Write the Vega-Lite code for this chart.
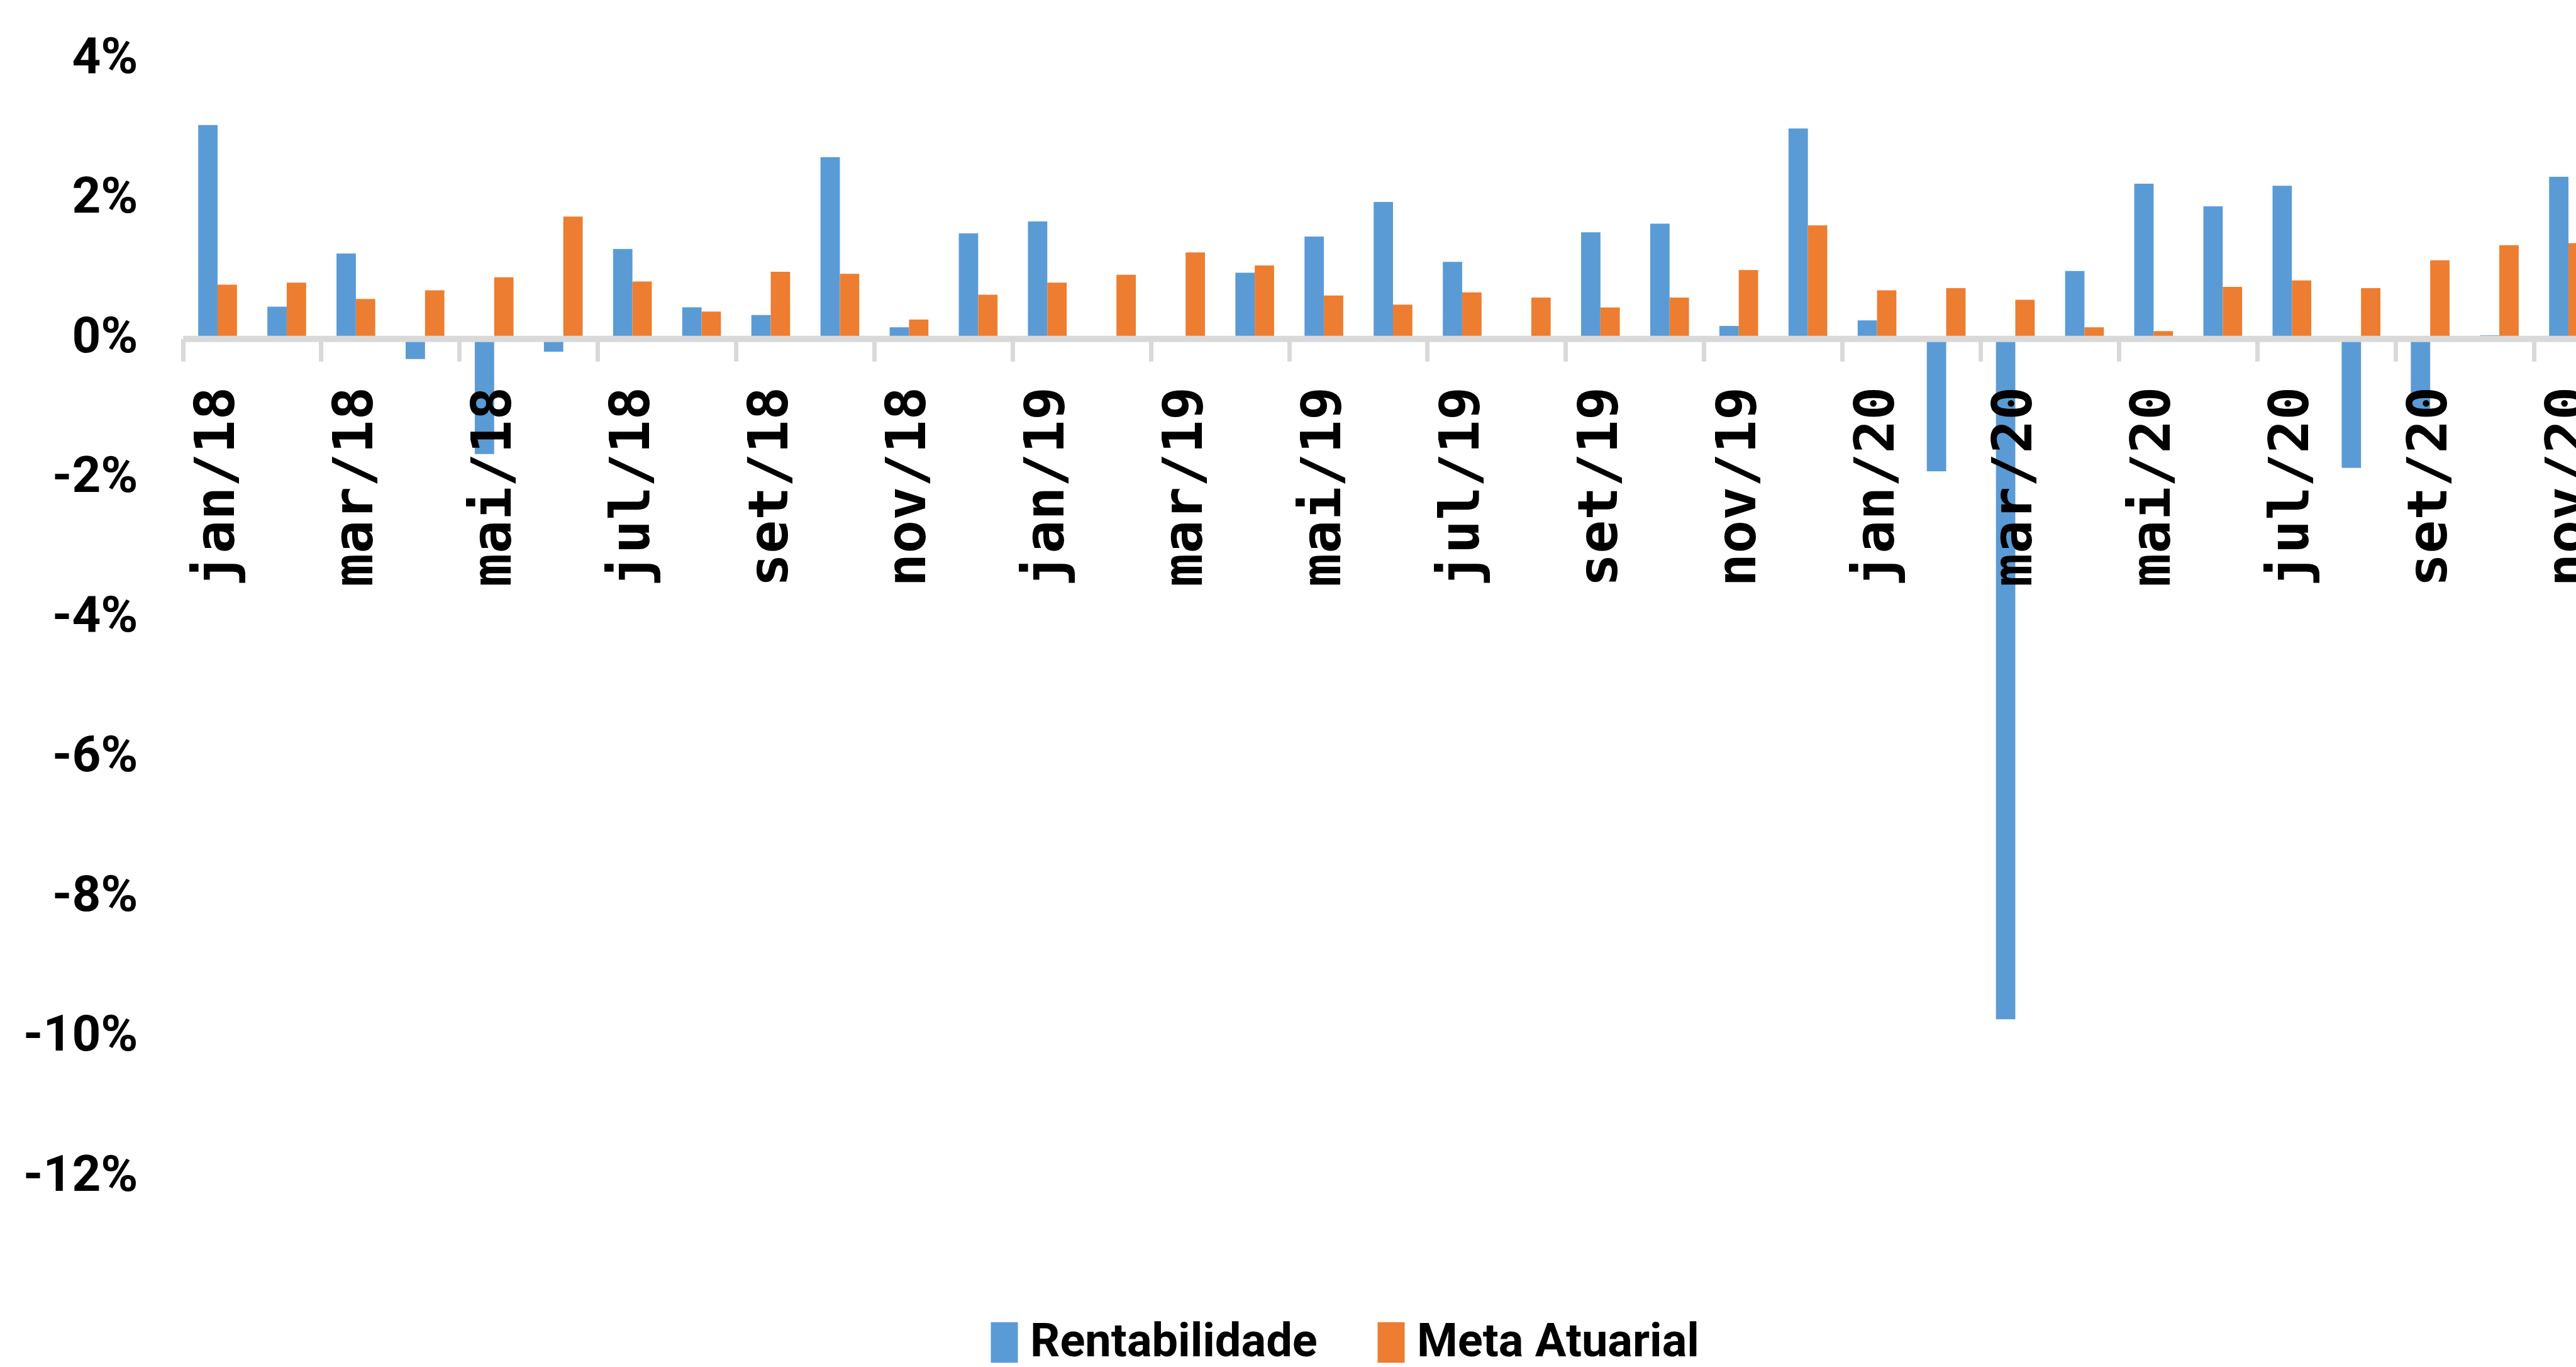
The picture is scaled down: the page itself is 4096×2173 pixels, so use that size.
{
  "$schema": "https://vega.github.io/schema/vega-lite/v6.json",
  "autosize": {"type": "none"},
  "padding": {"left": 291, "top": 91, "right": -43, "bottom": 305},
  "width": 3848,
  "height": 1777,
  "background": "white",
  "config": {"view": {"stroke": null}},
  "data": {"values": [
    {"mes": "jan/18", "serie": "Rentabilidade", "valor": 0.0303}, {"mes": "jan/18", "serie": "Meta Atuarial", "valor": 0.00745},
    {"mes": "fev/18", "serie": "Rentabilidade", "valor": 0.0043}, {"mes": "fev/18", "serie": "Meta Atuarial", "valor": 0.00775},
    {"mes": "mar/18", "serie": "Rentabilidade", "valor": 0.0119}, {"mes": "mar/18", "serie": "Meta Atuarial", "valor": 0.0054},
    {"mes": "abr/18", "serie": "Rentabilidade", "valor": -0.0032}, {"mes": "abr/18", "serie": "Meta Atuarial", "valor": 0.00665},
    {"mes": "mai/18", "serie": "Rentabilidade", "valor": -0.0168}, {"mes": "mai/18", "serie": "Meta Atuarial", "valor": 0.0085},
    {"mes": "jun/18", "serie": "Rentabilidade", "valor": -0.00215}, {"mes": "jun/18", "serie": "Meta Atuarial", "valor": 0.0172},
    {"mes": "jul/18", "serie": "Rentabilidade", "valor": 0.01255}, {"mes": "jul/18", "serie": "Meta Atuarial", "valor": 0.0079},
    {"mes": "ago/18", "serie": "Rentabilidade", "valor": 0.0042}, {"mes": "ago/18", "serie": "Meta Atuarial", "valor": 0.0036},
    {"mes": "set/18", "serie": "Rentabilidade", "valor": 0.0031}, {"mes": "set/18", "serie": "Meta Atuarial", "valor": 0.0093},
    {"mes": "out/18", "serie": "Rentabilidade", "valor": 0.0257}, {"mes": "out/18", "serie": "Meta Atuarial", "valor": 0.009},
    {"mes": "nov/18", "serie": "Rentabilidade", "valor": 0.00135}, {"mes": "nov/18", "serie": "Meta Atuarial", "valor": 0.00246},
    {"mes": "dez/18", "serie": "Rentabilidade", "valor": 0.0148}, {"mes": "dez/18", "serie": "Meta Atuarial", "valor": 0.006},
    {"mes": "jan/19", "serie": "Rentabilidade", "valor": 0.0165}, {"mes": "jan/19", "serie": "Meta Atuarial", "valor": 0.00775},
    {"mes": "fev/19", "serie": "Rentabilidade", "valor": 0}, {"mes": "fev/19", "serie": "Meta Atuarial", "valor": 0.00886},
    {"mes": "mar/19", "serie": "Rentabilidade", "valor": 0}, {"mes": "mar/19", "serie": "Meta Atuarial", "valor": 0.01206},
    {"mes": "abr/19", "serie": "Rentabilidade", "valor": 0.00917}, {"mes": "abr/19", "serie": "Meta Atuarial", "valor": 0.0102},
    {"mes": "mai/19", "serie": "Rentabilidade", "valor": 0.01434}, {"mes": "mai/19", "serie": "Meta Atuarial", "valor": 0.0059},
    {"mes": "jun/19", "serie": "Rentabilidade", "valor": 0.0193}, {"mes": "jun/19", "serie": "Meta Atuarial", "valor": 0.0046},
    {"mes": "jul/19", "serie": "Rentabilidade", "valor": 0.01071}, {"mes": "jul/19", "serie": "Meta Atuarial", "valor": 0.00634},
    {"mes": "ago/19", "serie": "Rentabilidade", "valor": 0}, {"mes": "ago/19", "serie": "Meta Atuarial", "valor": 0.0056},
    {"mes": "set/19", "serie": "Rentabilidade", "valor": 0.01495}, {"mes": "set/19", "serie": "Meta Atuarial", "valor": 0.00418},
    {"mes": "out/19", "serie": "Rentabilidade", "valor": 0.01618}, {"mes": "out/19", "serie": "Meta Atuarial", "valor": 0.0056},
    {"mes": "nov/19", "serie": "Rentabilidade", "valor": 0.00154}, {"mes": "nov/19", "serie": "Meta Atuarial", "valor": 0.00954},
    {"mes": "dez/19", "serie": "Rentabilidade", "valor": 0.0298}, {"mes": "dez/19", "serie": "Meta Atuarial", "valor": 0.01594},
    {"mes": "jan/20", "serie": "Rentabilidade", "valor": 0.00234}, {"mes": "jan/20", "serie": "Meta Atuarial", "valor": 0.00665},
    {"mes": "fev/20", "serie": "Rentabilidade", "valor": -0.01926}, {"mes": "fev/20", "serie": "Meta Atuarial", "valor": 0.00695},
    {"mes": "mar/20", "serie": "Rentabilidade", "valor": -0.0977}, {"mes": "mar/20", "serie": "Meta Atuarial", "valor": 0.0053},
    {"mes": "abr/20", "serie": "Rentabilidade", "valor": 0.0094}, {"mes": "abr/20", "serie": "Meta Atuarial", "valor": 0.00135},
    {"mes": "mai/20", "serie": "Rentabilidade", "valor": 0.0219}, {"mes": "mai/20", "serie": "Meta Atuarial", "valor": 0.0008},
    {"mes": "jun/20", "serie": "Rentabilidade", "valor": 0.01865}, {"mes": "jun/20", "serie": "Meta Atuarial", "valor": 0.00714},
    {"mes": "jul/20", "serie": "Rentabilidade", "valor": 0.0216}, {"mes": "jul/20", "serie": "Meta Atuarial", "valor": 0.00806},
    {"mes": "ago/20", "serie": "Rentabilidade", "valor": -0.01877}, {"mes": "ago/20", "serie": "Meta Atuarial", "valor": 0.00695},
    {"mes": "set/20", "serie": "Rentabilidade", "valor": -0.0107}, {"mes": "set/20", "serie": "Meta Atuarial", "valor": 0.01095},
    {"mes": "out/20", "serie": "Rentabilidade", "valor": 0.0002}, {"mes": "out/20", "serie": "Meta Atuarial", "valor": 0.0131},
    {"mes": "nov/20", "serie": "Rentabilidade", "valor": 0.0229}, {"mes": "nov/20", "serie": "Meta Atuarial", "valor": 0.0134}
  ]},
  "mark": {"type": "bar"},
  "encoding": {
    "x": {
      "field": "mes", "type": "nominal", "sort": null,
      "scale": {"paddingInner": 0, "paddingOuter": 0},
      "axis": {
        "title": null,
        "offset": {"expr": "scale('y', 0) - height + 3"},
        "zindex": 1,
        "values": ["jan/18","mar/18","mai/18","jul/18","set/18","nov/18","jan/19","mar/19","mai/19","jul/19","set/19","nov/19","jan/20","mar/20","mai/20","jul/20","set/20","nov/20"],
        "bandPosition": 0,
        "domainColor": "#D9D9D9", "domainWidth": 10,
        "tickColor": "#D9D9D9", "tickWidth": 7, "tickSize": 36,
        "labelAngle": 270, "labelPadding": 40, "labelLimit": 1000,
        "labelFont": "DejaVu Sans Mono", "labelFontWeight": "bold", "labelFontSize": 88,
        "labelColor": "#000000", "labelOverlap": false
      }
    },
    "xOffset": {
      "field": "serie", "type": "nominal", "sort": ["Rentabilidade", "Meta Atuarial"],
      "scale": {"paddingInner": 0, "paddingOuter": 0.785}
    },
    "y": {
      "field": "valor", "type": "quantitative",
      "scale": {"domain": [-0.12, 0.04], "nice": false},
      "axis": {
        "title": null, "domain": false, "ticks": false, "tickSize": 0, "grid": false,
        "values": [-0.12, -0.1, -0.08, -0.06, -0.04, -0.02, 0, 0.02, 0.04],
        "labelExpr": "round(datum.value * 100) + '%'",
        "labelPadding": 72, "labelLimit": 1000,
        "labelFont": "Roboto", "labelFontWeight": "bold", "labelFontSize": 80,
        "labelColor": "#000000"
      }
    },
    "color": {
      "field": "serie", "type": "nominal", "sort": ["Rentabilidade", "Meta Atuarial"],
      "scale": {"domain": ["Rentabilidade", "Meta Atuarial"], "range": ["#5B9BD5", "#ED7D31"]},
      "legend": {
        "title": null, "orient": "none", "direction": "horizontal",
        "legendX": 1269, "legendY": 2006,
        "symbolType": "M-1,-1.5L1,-1.5L1,1.5L-1,1.5Z", "symbolSize": 1849,
        "symbolStrokeWidth": 0, "symbolOpacity": 1,
        "labelFont": "Roboto", "labelFontWeight": "bold", "labelFontSize": 74,
        "labelColor": "#000000", "labelOffset": 4, "columnPadding": 80,
        "labelLimit": 1000
      }
    }
  }
}
